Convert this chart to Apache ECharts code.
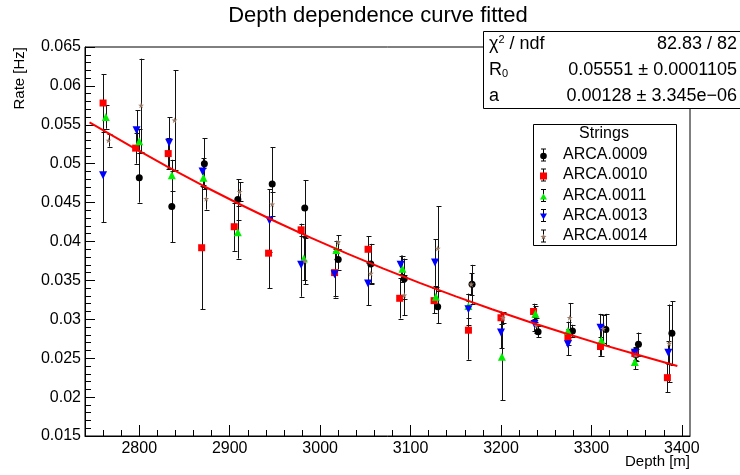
<!DOCTYPE html>
<html><head><meta charset="utf-8">
<script src="https://cdn.jsdelivr.net/npm/echarts@6/dist/echarts.min.js"></script>
<style>html,body{margin:0;padding:0;background:#fff}#c{width:740px;height:475px}</style>
</head><body><div id="c"></div>
<script>
// ---------- data ----------
const xMajorTicks = [2800, 2900, 3000, 3100, 3200, 3300, 3400];
const yMin = 0.015, yMax = 0.065, yStep = 0.005;

const d0009 = [2800, 2836, 2872, 2909, 2947, 2983, 3020, 3056, 3093, 3130, 3168, 3241, 3279, 3316, 3352, 3389];
const v0009 = [0.0482, 0.0445, 0.0500, 0.0454, 0.0474, 0.0443, 0.0377, 0.0371, 0.0352, 0.0316, 0.0345, 0.0284, 0.0285, 0.0287, 0.0268, 0.0282];
const e0009 = [0.0032, 0.0046, 0.0033, 0.0026, 0.0047, 0.0036, 0.0013, 0.0026, 0.0026, 0.0021, 0.0025, 0.0007, 0.0008, 0.0020, 0.0015, 0.0041];

const d0010 = [2760, 2796, 2832, 2869, 2905, 2943, 2979, 3016, 3053, 3088, 3126, 3164, 3200, 3236, 3274, 3310, 3348, 3384];
const v0010 = [0.0578, 0.0520, 0.0513, 0.0392, 0.0419, 0.0385, 0.0415, 0.0360, 0.0390, 0.0327, 0.0324, 0.0286, 0.0302, 0.0310, 0.0277, 0.0265, 0.0256, 0.0225];
const e0010 = [0.0037, 0.0020, 0.0020, 0.0079, 0.0031, 0.0045, 0.0008, 0.0030, 0.0017, 0.0026, 0.0016, 0.0038, 0.0008, 0.0010, 0.0010, 0.0012, 0.0008, 0.0019];

const d0011 = [2763, 2800, 2836, 2871, 2909, 2982, 3018, 3091, 3128, 3164, 3201, 3238, 3274, 3311, 3348];
const v0011 = [0.0560, 0.0529, 0.0485, 0.0482, 0.0412, 0.0378, 0.0389, 0.0365, 0.0329, 0.0317, 0.0252, 0.0307, 0.0285, 0.0273, 0.0245];
const e0011 = [0.0015, 0.0015, 0.0020, 0.0012, 0.0034, 0.0028, 0.0012, 0.0017, 0.0012, 0.0015, 0.0056, 0.0010, 0.0012, 0.0020, 0.0009];

const d0013 = [2760, 2797, 2833, 2870, 2944, 2979, 3016, 3053, 3089, 3127, 3164, 3200, 3237, 3274, 3310, 3348, 3385];
const v0013 = [0.0485, 0.0543, 0.0527, 0.0490, 0.0427, 0.0370, 0.0358, 0.0346, 0.0370, 0.0373, 0.0313, 0.0283, 0.0294, 0.0268, 0.0289, 0.0257, 0.0257];
const e0013 = [0.0060, 0.0026, 0.0033, 0.0017, 0.0040, 0.0041, 0.0030, 0.0028, 0.0012, 0.0030, 0.0020, 0.0020, 0.0009, 0.0014, 0.0018, 0.0006, 0.0015];

const d0014 = [2766, 2802, 2839, 2874, 2911, 2947, 2983, 3020, 3056, 3093, 3130, 3167, 3202, 3239, 3276, 3313, 3349, 3386];
const v0014 = [0.0530, 0.0575, 0.0556, 0.0455, 0.0464, 0.0448, 0.0375, 0.0399, 0.0359, 0.0331, 0.0391, 0.0345, 0.0302, 0.0292, 0.0302, 0.0288, 0.0254, 0.0269];
const e0014 = [0.0008, 0.0060, 0.0064, 0.0014, 0.0012, 0.0015, 0.0030, 0.0009, 0.0012, 0.0026, 0.0054, 0.0014, 0.0007, 0.0010, 0.0019, 0.0018, 0.0008, 0.0050];

// fitted curve
const fitDepth = [2745, 2790, 2830, 2870, 2910, 2950, 2990, 3030, 3070, 3110, 3150, 3190, 3230, 3270, 3310, 3350, 3395];
const fitRate  = [0.0553, 0.0523, 0.0497, 0.0472, 0.04485, 0.0426, 0.04047, 0.03844, 0.03651, 0.03468, 0.03294, 0.03129, 0.02972, 0.02823, 0.02681, 0.02547, 0.0240];

const statNames  = ['chi', 'R0', 'a'];
const statValues = ['82.83 / 82', '0.05551 \u00b1 0.0001105', '0.00128 \u00b1 3.345e\u221206'];

// ---------- styling ----------
const FONT = '"Liberation Sans", Arial, Helvetica, sans-serif';
const STAR = 'path://M50,0 L61,35 L98,35 L68,57 L79,91 L50,70 L21,91 L32,57 L2,35 L39,35 Z';
const strings = [
  {name: 'ARCA.0009', d: d0009, v: v0009, e: e0009, symbol: 'circle', size: 7, rot: 0, color: '#000000'},
  {name: 'ARCA.0010', d: d0010, v: v0010, e: e0010, symbol: 'rect', size: 7, rot: 0, color: '#ff0000'},
  {name: 'ARCA.0011', d: d0011, v: v0011, e: e0011, symbol: 'triangle', size: 8, rot: 0, color: '#00ee00'},
  {name: 'ARCA.0013', d: d0013, v: v0013, e: e0013, symbol: 'triangle', size: 8, rot: 180, color: '#0000ff'},
  {name: 'ARCA.0014', d: d0014, v: v0014, e: e0014, symbol: STAR, size: 6, rot: 0, color: '#9a7b68'}
];

const xMinor = [];
for (let t = 2740; t <= 3400; t += 20) if (xMajorTicks.indexOf(t) < 0) xMinor.push(t);

function errRender(params, api) {
  const x = api.value(0), v = api.value(1), e = api.value(2);
  const top = api.coord([x, v + e]);
  const bot = api.coord([x, v - e]);
  const cx = Math.round(top[0]) + 0.5;
  const st = {stroke: '#111', lineWidth: 1};
  return {type: 'group', children: [
    {type: 'line', shape: {x1: cx, y1: top[1], x2: cx, y2: bot[1]}, style: st},
    {type: 'line', shape: {x1: cx - 2, y1: Math.round(top[1]) + 0.5, x2: cx + 3, y2: Math.round(top[1]) + 0.5}, style: st},
    {type: 'line', shape: {x1: cx - 2, y1: Math.round(bot[1]) + 0.5, x2: cx + 3, y2: Math.round(bot[1]) + 0.5}, style: st}
  ]};
}

const series = [];
strings.forEach(s => {
  series.push({
    type: 'custom', name: s.name + ' err', xAxisIndex: 0, yAxisIndex: 0,
    renderItem: errRender, encode: {x: 0, y: 1},
    data: s.d.map((d, i) => [d, s.v[i], s.e[i]]), z: 2, silent: true
  });
});
strings.forEach(s => {
  series.push({
    type: 'scatter', name: s.name, xAxisIndex: 0, yAxisIndex: 0,
    symbol: s.symbol, symbolSize: s.size, symbolRotate: s.rot,
    itemStyle: {color: s.color, opacity: 1},
    data: s.d.map((d, i) => [d, s.v[i]]), z: 3, silent: true
  });
});
series.push({
  type: 'line', name: 'fit', xAxisIndex: 0, yAxisIndex: 0,
  data: fitDepth.map((d, i) => [d, fitRate[i]]),
  showSymbol: false, lineStyle: {color: '#ff0000', width: 2}, z: 4, silent: true
});

// ---------- legend / stats / titles as graphics ----------
const graphics = [];
graphics.push({type: 'text', x: 378, y: 16, style: {text: 'Depth dependence curve fitted', font: '22px ' + FONT, fill: '#000', align: 'center', verticalAlign: 'middle'}, z: 10});
graphics.push({type: 'text', x: 12, y: 47, rotation: Math.PI / 2, style: {text: 'Rate [Hz]', font: '15px ' + FONT, fill: '#000', align: 'right', verticalAlign: 'top'}, z: 10});
graphics.push({type: 'text', x: 690, y: 462, style: {text: 'Depth [m]', font: '15px ' + FONT, fill: '#000', align: 'right', verticalAlign: 'middle'}, z: 10});

// stats box
graphics.push({type: 'rect', shape: {x: 483.5, y: 31.5, width: 262, height: 77}, style: {fill: '#fff', stroke: '#000', lineWidth: 1}, z: 20});
const statRowY = [44, 70, 96];
const statLabels = [
  {text: '{n|\u03c7}{sup|2}{n| / ndf}'},
  {text: '{n|R}{sub|0}'},
  {text: '{n|a}'}
];
const rich = {
  n: {font: '18px ' + FONT, fill: '#000'},
  sup: {font: '11px ' + FONT, fill: '#000', verticalAlign: 'top', padding: [0, 0, 8, 0]},
  sub: {font: '11px ' + FONT, fill: '#000', padding: [8, 0, 0, 0]}
};
statNames.forEach((nm, i) => {
  graphics.push({type: 'text', x: 489, y: statRowY[i], style: {text: statLabels[i].text, rich: rich, verticalAlign: 'middle', align: 'left'}, z: 21});
  graphics.push({type: 'text', x: 737, y: statRowY[i], style: {text: statValues[i], font: '18px ' + FONT, fill: '#000', verticalAlign: 'middle', align: 'right'}, z: 21});
});

// legend box
graphics.push({type: 'rect', shape: {x: 533.5, y: 124.5, width: 143, height: 121}, style: {fill: '#fff', stroke: '#000', lineWidth: 1}, z: 20});
graphics.push({type: 'text', x: 604, y: 134, style: {text: 'Strings', font: '16px ' + FONT, fill: '#000', align: 'center', verticalAlign: 'middle'}, z: 21});
const legY = [155, 175, 195.5, 215.5, 236];
strings.forEach((s, i) => {
  const y = legY[i], x = 543.5;
  const st = {stroke: '#000', lineWidth: 1};
  graphics.push({type: 'line', shape: {x1: x, y1: y - 6, x2: x, y2: y + 6}, style: st, z: 21});
  graphics.push({type: 'line', shape: {x1: x - 2.5, y1: y - 6, x2: x + 2.5, y2: y - 6}, style: st, z: 21});
  graphics.push({type: 'line', shape: {x1: x - 2.5, y1: y + 6, x2: x + 2.5, y2: y + 6}, style: st, z: 21});
  let shape;
  if (i === 0) shape = {type: 'circle', shape: {cx: x, cy: y + 1, r: 3.3}, style: {fill: s.color}, z: 22};
  else if (i === 1) shape = {type: 'rect', shape: {x: x - 3.5, y: y - 2.5, width: 7, height: 7}, style: {fill: s.color}, z: 22};
  else if (i === 2) shape = {type: 'polygon', shape: {points: [[x, y - 2], [x + 3.5, y + 4], [x - 3.5, y + 4]]}, style: {fill: s.color}, z: 22};
  else if (i === 3) shape = {type: 'polygon', shape: {points: [[x - 3.5, y - 2], [x + 3.5, y - 2], [x, y + 4]]}, style: {fill: s.color}, z: 22};
  else {
    const pts = [];
    for (let k = 0; k < 10; k++) {
      const r = k % 2 === 0 ? 3.2 : 1.4;
      const ang = -Math.PI / 2 + k * Math.PI / 5;
      pts.push([x + r * Math.cos(ang), y + 1 + r * Math.sin(ang)]);
    }
    shape = {type: 'polygon', shape: {points: pts}, style: {fill: s.color}, z: 22};
  }
  graphics.push(shape);
  graphics.push({type: 'text', x: 563, y: y, style: {text: s.name, font: '16px ' + FONT, fill: '#000', align: 'left', verticalAlign: 'middle'}, z: 21});
});

const chart = echarts.init(document.getElementById('c'), null, {renderer: 'canvas'});
chart.setOption({
  animation: false,
  backgroundColor: '#fff',
  grid: {left: 85, top: 47, right: 50, bottom: 39, show: true, borderColor: '#000', borderWidth: 1, backgroundColor: 'transparent'},
  xAxis: [
    {
      type: 'value', min: 2740, max: 3409, position: 'bottom',
      axisLine: {show: true, onZero: false, lineStyle: {color: '#000', width: 1}},
      axisTick: {show: true, inside: true, length: 11, customValues: xMajorTicks, lineStyle: {color: '#000'}},
      axisLabel: {show: true, customValues: xMajorTicks, margin: 5, color: '#000', fontSize: 16, fontFamily: FONT,
        formatter: v => String(Math.round(v))},
      splitLine: {show: false}
    },
    {
      type: 'value', min: 2740, max: 3409, position: 'bottom',
      axisLine: {show: false, onZero: false},
      axisTick: {show: true, inside: true, length: 6, customValues: xMinor, lineStyle: {color: '#000'}},
      axisLabel: {show: false},
      splitLine: {show: false}
    }
  ],
  yAxis: {
    type: 'value', min: yMin, max: yMax, interval: yStep,
    axisLine: {show: true, onZero: false, lineStyle: {color: '#000', width: 1}},
    axisTick: {show: true, inside: true, length: 10, lineStyle: {color: '#000'}},
    minorTick: {show: true, splitNumber: 5, length: 6, lineStyle: {color: '#000'}},
    axisLabel: {margin: 4, color: '#000', fontSize: 16, fontFamily: FONT,
      formatter: v => String(+v.toFixed(3))},
    splitLine: {show: false}
  },
  series: series,
  graphic: graphics
});
</script>
</body></html>
